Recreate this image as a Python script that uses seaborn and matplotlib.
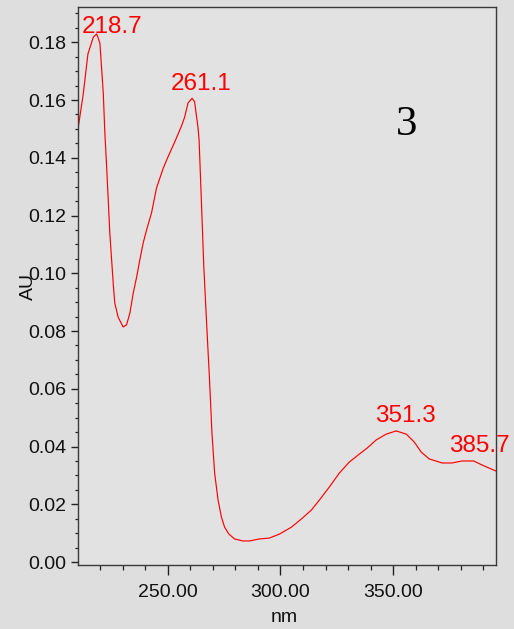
import matplotlib
matplotlib.use("Agg")
import matplotlib.pyplot as plt
import matplotlib.ticker as mticker
import seaborn as sns
import pandas as pd

# ---- data ----
wavelength = [210.2, 212.5, 214.6, 217.0, 218.5, 219.9, 221.4, 222.1, 222.9, 223.6,
              224.3, 225.8, 226.5, 228.0, 230.2, 231.7, 233.2, 234.7, 236.2, 237.6,
              239.1, 240.6, 242.8, 245.0, 248.0, 250.1, 253.1, 256.1, 257.5, 259.0,
              260.8, 261.9, 263.4, 263.9, 264.9, 266.0, 267.1, 268.6, 269.6, 270.8,
              272.3, 273.8, 275.2, 277.1, 279.6, 283.3, 286.3, 290.7, 295.1, 299.6,
              304.9, 309.7, 313.7, 317.3, 321.7, 326.1, 330.5, 335.0, 338.5, 342.5,
              346.9, 351.3, 355.8, 359.3, 362.4, 366.0, 371.7, 376.1, 380.5, 385.7,
              389.4, 395.6]
absorbance = [0.150, 0.162, 0.176, 0.1818, 0.1829, 0.1797, 0.1624, 0.1486, 0.1368, 0.1254,
              0.1139, 0.0966, 0.0897, 0.0848, 0.0814, 0.0821, 0.0862, 0.0932, 0.0987, 0.1046,
              0.1105, 0.1150, 0.1209, 0.1295, 0.1364, 0.1403, 0.1455, 0.1510, 0.1541, 0.1590,
              0.1606, 0.1594, 0.1506, 0.1461, 0.1254, 0.1022, 0.0848, 0.0620, 0.0447, 0.0308,
              0.0215, 0.0156, 0.0121, 0.0097, 0.0080, 0.0073, 0.0073, 0.0080, 0.0083, 0.0097,
              0.0121, 0.0152, 0.0180, 0.0215, 0.0260, 0.0308, 0.0346, 0.0374, 0.0395, 0.0423,
              0.0443, 0.0454, 0.0443, 0.0416, 0.0381, 0.0357, 0.0343, 0.0343, 0.0350, 0.0350,
              0.0336, 0.0315]

peak_labels = ["218.7", "261.1", "351.3", "385.7"]
peak_label_x = [225.4, 264.6, 355.3, 388.1]
peak_label_y = [0.1853, 0.1655, 0.0506, 0.0402]

panel_label = "3"
x_label = "nm"
y_label = "AU"

df = pd.DataFrame({"nm": wavelength, "AU": absorbance})

sns.set_style("ticks")
plt.rcParams["font.family"] = ["Liberation Sans", "DejaVu Sans"]

bg = "#dedede"
fig = plt.figure(figsize=(5.14, 6.29), dpi=100, facecolor=bg)
ax = fig.add_axes([0.1518, 0.1017, 0.8132, 0.8871])
ax.set_facecolor("#e2e2e2")

sns.lineplot(data=df, x="nm", y="AU", ax=ax, color="#ff0000", linewidth=0.85, sort=False)

ax.set_xlim(210.2, 395.6)
ax.set_ylim(-0.00104, 0.1922)

ax.xaxis.set_major_locator(mticker.MultipleLocator(50))
ax.xaxis.set_minor_locator(mticker.MultipleLocator(10))
ax.yaxis.set_major_locator(mticker.MultipleLocator(0.02))
ax.yaxis.set_minor_locator(mticker.MultipleLocator(0.005))
ax.xaxis.set_major_formatter(mticker.FormatStrFormatter("%.2f"))
ax.yaxis.set_major_formatter(mticker.FormatStrFormatter("%.2f"))

spine_col = "#3a3a3a"
for s in ax.spines.values():
    s.set_visible(True)
    s.set_color(spine_col)
    s.set_linewidth(1.0)

ax.tick_params(axis="x", which="major", direction="out", length=7.5, width=1.0,
               colors="#222222", labelsize=14, pad=6)
ax.tick_params(axis="x", which="minor", direction="out", length=3.8, width=0.9, colors="#222222")
ax.tick_params(axis="y", which="major", direction="out", length=4.8, width=1.0,
               colors="#222222", labelsize=14, pad=3.5)
ax.tick_params(axis="y", which="minor", direction="out", length=2.0, width=0.9, colors="#222222")
ax.tick_params(labelcolor="#111111")

ax.set_xlabel(x_label, fontsize=14, color="#111111", va="center")
ax.set_ylabel(y_label, fontsize=14, color="#111111")
ax.xaxis.set_label_coords(0.493, -0.094)
ax.yaxis.set_label_coords(-0.098, 0.50)

for lab, lx, ly in zip(peak_labels, peak_label_x, peak_label_y):
    ax.text(lx, ly, lab, color="#ff0000", fontsize=17.5, ha="center", va="center",
            clip_on=False)

ax.text(355.8, 0.1513, panel_label, fontsize=31, family=["Liberation Serif", "DejaVu Serif"],
        ha="center", va="center", color="#000000")

fig.savefig("out.png", dpi=100, facecolor=bg)
